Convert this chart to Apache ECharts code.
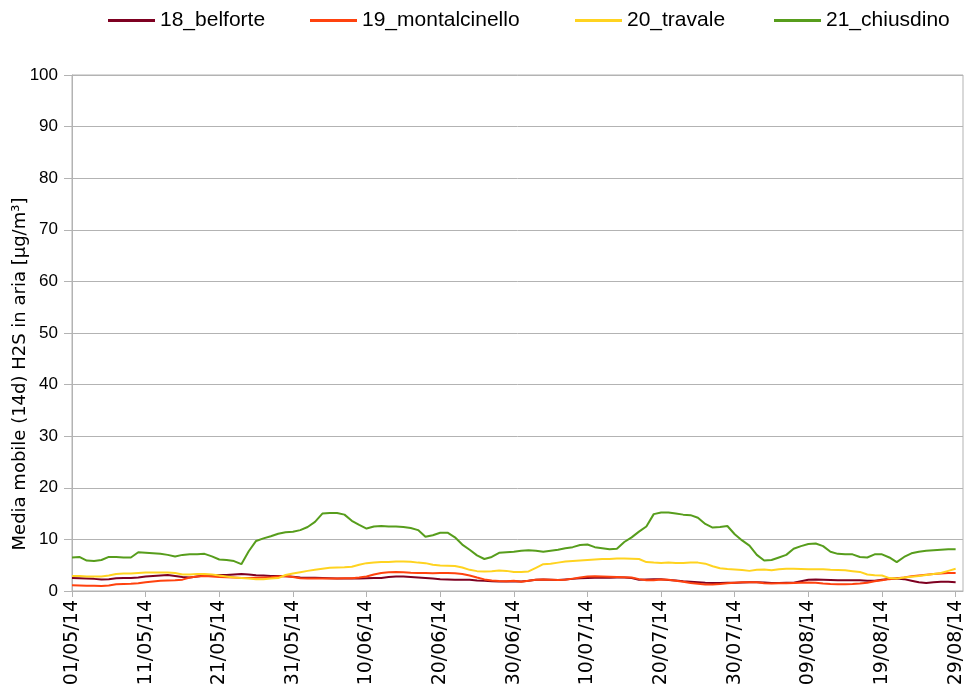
<!DOCTYPE html>
<html>
<head>
<meta charset="utf-8">
<script src="https://cdn.jsdelivr.net/npm/echarts@6/dist/echarts.min.js"></script>
<style>html,body{margin:0;padding:0;background:#fff}#c{width:969px;height:689px}</style>
</head>
<body>
<div id="c"></div>
<script>
// categories: daily dates 01/05/14 .. 30/08/14
var startDate = [2014, 4, 1];
var dayCount = 122;
var seriesNames = ['18_belforte', '19_montalcinello', '20_travale', '21_chiusdino'];
var yTicks = [0, 10, 20, 30, 40, 50, 60, 70, 80, 90, 100];

var belforte = [2.5,2.45,2.4,2.35,2.25,2.3,2.45,2.5,2.5,2.6,2.8,2.9,3.0,3.1,2.9,2.7,2.6,2.8,3.0,3.05,3.1,
 3.1,3.2,3.3,3.2,3.05,3.0,2.9,2.9,2.85,2.75,2.6,2.55,2.55,2.5,2.45,2.4,2.4,2.4,2.4,2.45,
 2.5,2.5,2.7,2.8,2.8,2.7,2.6,2.5,2.4,2.3,2.25,2.2,2.2,2.2,2.05,2.0,1.9,1.85,1.85,1.9,
 1.85,2.0,2.2,2.25,2.2,2.15,2.25,2.35,2.45,2.5,2.55,2.55,2.55,2.6,2.6,2.5,2.2,2.25,2.3,2.3,
 2.15,2.05,1.9,1.8,1.7,1.6,1.55,1.55,1.6,1.6,1.65,1.7,1.7,1.65,1.55,1.55,1.6,1.6,1.9,2.2,
 2.25,2.2,2.15,2.1,2.1,2.1,2.1,2.0,2.0,2.2,2.35,2.4,2.3,2.0,1.7,1.55,1.7,1.8,1.8,1.7];
var montalcinello = [1.1,1.05,1.0,1.0,0.95,1.05,1.3,1.35,1.4,1.5,1.7,1.85,2.0,2.05,2.1,2.2,2.6,2.8,2.9,2.8,2.7,
 2.65,2.6,2.5,2.5,2.55,2.6,2.65,2.8,2.9,2.7,2.45,2.4,2.4,2.4,2.4,2.4,2.45,2.45,2.6,2.8,
 3.2,3.5,3.65,3.7,3.65,3.55,3.5,3.5,3.45,3.5,3.5,3.45,3.3,3.0,2.6,2.25,2.05,1.95,1.9,2.0,
 1.8,2.0,2.2,2.25,2.2,2.15,2.2,2.4,2.6,2.8,2.85,2.8,2.75,2.7,2.65,2.6,2.3,2.1,2.1,2.25,
 2.2,2.0,1.8,1.55,1.4,1.25,1.25,1.35,1.5,1.6,1.7,1.7,1.7,1.5,1.45,1.5,1.5,1.55,1.6,1.65,
 1.6,1.45,1.35,1.3,1.3,1.35,1.45,1.6,1.9,2.1,2.3,2.45,2.6,2.85,3.0,3.15,3.3,3.4,3.5,3.5];
var travale = [2.9,2.9,2.8,2.8,2.8,3.0,3.3,3.4,3.4,3.5,3.6,3.6,3.6,3.6,3.5,3.2,3.2,3.3,3.3,3.2,3.0,
 2.8,2.6,2.5,2.4,2.3,2.3,2.4,2.5,3.1,3.4,3.65,3.9,4.1,4.3,4.5,4.55,4.6,4.7,5.1,5.4,
 5.5,5.6,5.6,5.7,5.7,5.65,5.5,5.4,5.1,4.95,4.9,4.85,4.55,4.1,3.85,3.8,3.85,3.95,3.9,3.7,
 3.7,3.8,4.5,5.2,5.3,5.5,5.7,5.8,5.9,6.0,6.1,6.2,6.2,6.3,6.3,6.25,6.2,5.6,5.5,5.45,
 5.5,5.45,5.45,5.5,5.5,5.3,4.8,4.4,4.25,4.15,4.05,3.9,4.1,4.15,4.0,4.2,4.3,4.3,4.25,4.2,
 4.2,4.2,4.1,4.05,4.0,3.85,3.7,3.2,3.05,3.0,2.5,2.4,2.6,2.75,2.9,3.1,3.3,3.5,3.9,4.3];
var chiusdino = [6.5,6.6,5.9,5.8,6.0,6.6,6.6,6.5,6.5,7.5,7.4,7.3,7.2,7.0,6.7,7.0,7.1,7.1,7.2,6.7,6.1,
 6.0,5.8,5.2,7.7,9.7,10.2,10.6,11.1,11.4,11.5,11.8,12.4,13.4,15.0,15.1,15.1,14.8,13.6,12.8,12.1,
 12.5,12.6,12.5,12.5,12.4,12.2,11.8,10.5,10.8,11.3,11.3,10.4,9.0,8.0,6.9,6.2,6.6,7.4,7.5,7.6,
 7.8,7.9,7.8,7.6,7.8,8.0,8.3,8.5,8.9,9.0,8.5,8.3,8.1,8.2,9.5,10.4,11.5,12.5,14.9,15.2,
 15.2,15.0,14.8,14.7,14.2,13.0,12.3,12.4,12.6,11.0,9.8,8.8,7.0,5.9,6.0,6.5,7.0,8.2,8.7,9.1,
 9.2,8.7,7.6,7.2,7.1,7.1,6.6,6.5,7.1,7.1,6.5,5.6,6.6,7.3,7.6,7.8,7.9,8.0,8.1,8.1];

function pad(n){return (n<10?'0':'')+n;}
var categories = [];
for (var i = 0; i < dayCount; i++) {
  var d = new Date(startDate[0], startDate[1], startDate[2] + i);
  categories.push(pad(d.getDate()) + '/' + pad(d.getMonth()+1) + '/' + String(d.getFullYear()).slice(2));
}

var colors = ['#7e0021', '#ff420e', '#ffd320', '#579d1c'];
var dataList = [belforte, montalcinello, travale, chiusdino];
var FONT = 'Liberation Sans';
var WIDE = 'DejaVu Sans';
var showTick = function(idx){ return idx % 10 === 0 && idx <= 120; };
var legendLeft = [108, 310, 575, 774];

var chart = echarts.init(document.getElementById('c'), null, {renderer: 'canvas'});
chart.setOption({
  animation: false,
  color: colors,
  textStyle: {fontFamily: FONT},
  legend: seriesNames.map(function(n, k){
    return {
      top: 10, left: legendLeft[k], padding: 0,
      itemWidth: 47, itemHeight: 3, itemGap: 0,
      icon: 'rect',
      textStyle: {fontSize: 21, color: '#000', fontFamily: FONT},
      data: [n]
    };
  }),
  grid: {left: 72, top: 75, right: 6, bottom: 98, show: true, borderColor: '#b3b3b3', borderWidth: 1},
  xAxis: {
    type: 'category', data: categories, boundaryGap: false,
    axisLine: {lineStyle: {color: '#b3b3b3', width: 1}},
    axisTick: {show: true, interval: showTick, length: 6, lineStyle: {color: '#b3b3b3'}},
    axisLabel: {interval: showTick, rotate: 90, fontSize: 19, color: '#000', margin: 9, fontFamily: WIDE},
    splitLine: {show: false}
  },
  yAxis: {
    type: 'value', min: 0, max: 100, interval: 10,
    axisLine: {show: true, lineStyle: {color: '#b3b3b3'}},
    axisTick: {show: true, length: 8, lineStyle: {color: '#b3b3b3'}},
    axisLabel: {fontSize: 17, color: '#000', margin: 14, fontFamily: FONT,
      formatter: function(v){ return yTicks.indexOf(v) >= 0 ? String(v) : ''; }},
    splitLine: {show: true, lineStyle: {color: '#b3b3b3', width: 1}}
  },
  graphic: [{
    type: 'text', x: 20, y: 374, rotation: Math.PI/2,
    style: {text: 'Media mobile (14d) H2S in aria [µg/m³]', fontSize: 18, fontFamily: WIDE, fill: '#000',
      textAlign: 'center', textVerticalAlign: 'middle'}
  }],
  series: seriesNames.map(function(n, k){
    return {name: n, type: 'line', data: dataList[k], showSymbol: false, symbol: 'none',
      lineStyle: {width: 2, color: colors[k]}, itemStyle: {color: colors[k]}};
  })
});
</script>
</body>
</html>
